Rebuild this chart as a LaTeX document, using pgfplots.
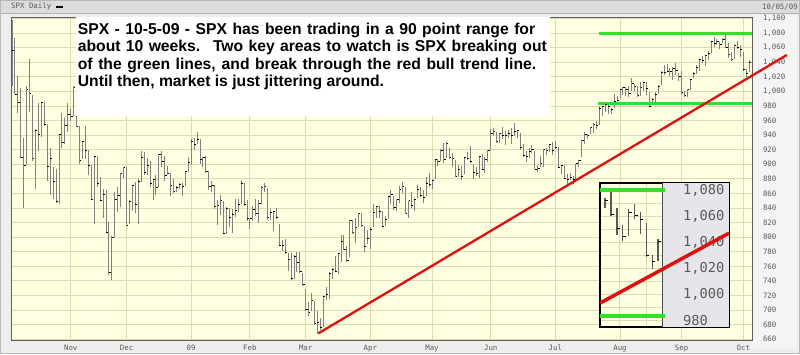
\documentclass[border=0pt]{standalone}
\usepackage{pgfplots}
\pgfplotsset{compat=1.18}
\usepackage{pgfplotstable}
\usepackage{fontspec}
\setmainfont{Liberation Sans}
\newfontfamily\tickfont{DejaVu Sans Mono}
\definecolor{framebg}{HTML}{EDEDED}
\definecolor{headbg}{HTML}{DCDCDC}
\definecolor{plotbg}{HTML}{FFFFE2}
\definecolor{gridc}{HTML}{DEDAB2}
\definecolor{labbg}{HTML}{F4F4F4}
\definecolor{insetgray}{HTML}{E6E6EA}
\definecolor{barc}{HTML}{808080}
\definecolor{greenl}{HTML}{33E02A}
\definecolor{redl}{HTML}{DD1111}
\definecolor{tickc}{HTML}{5A5A5A}
\pgfdeclareplotmark{ctick}{\pgfpathmoveto{\pgfpointorigin}\pgfpathlineto{\pgfpoint{1.8pt}{0pt}}\pgfusepathqstroke}
\pgfdeclareplotmark{ctickbig}{\pgfpathmoveto{\pgfpointorigin}\pgfpathlineto{\pgfpoint{3pt}{0pt}}\pgfusepathqstroke}

% SPX daily, 6 Oct 2008 - 5 Oct 2009 : high low close
\pgfplotstableread{
h l c
1097.56 1007.97 1056.89
1072.91 996.23 996.23
1021.06 970.97 984.94
1005.25 909.19 909.92
936.36 839.80 899.22
1006.93 899.22 1003.35
1044.31 972.07 998.01
994.72 903.99 907.84
948.67 865.83 946.43
984.38 918.74 940.55
985.40 937.28 985.40
985.44 952.47 955.05
955.05 877.08 896.78
922.83 858.44 908.11
896.14 852.85 876.77
893.78 846.75 848.92
940.51 845.27 940.51
969.97 922.26 930.09
963.23 928.50 954.09
984.38 944.59 968.75
975.57 958.82 966.30
1007.51 966.30 1005.75
1005.75 952.21 952.77
952.77 899.73 904.88
931.46 906.90 930.99
951.95 907.47 919.21
919.21 885.12 898.95
898.95 852.30 852.30
911.88 818.69 911.29
911.29 868.57 873.29
882.29 848.98 850.75
865.90 826.84 859.12
864.57 806.18 806.58
820.52 747.78 752.44
801.20 741.02 800.03
862.27 800.03 851.81
868.94 834.99 857.39
887.68 841.37 887.68
896.25 881.21 896.24
896.24 815.69 816.21
850.54 817.93 848.81
870.80 836.49 870.74
875.60 833.60 845.22
879.42 818.41 876.07
918.57 876.07 909.70
916.26 885.38 888.67
908.27 885.45 899.24
904.63 868.73 873.59
880.04 851.35 879.73
884.63 857.72 868.57
914.66 868.57 913.18
918.85 895.94 904.42
911.02 877.44 885.28
897.79 884.81 887.88
887.36 857.09 871.63
880.44 860.10 863.16
869.79 861.44 868.15
873.74 866.52 872.80
873.70 857.07 869.42
891.12 870.58 890.64
910.32 889.67 903.25
934.73 899.35 931.80
936.63 919.53 927.45
943.85 927.28 934.70
934.70 899.96 906.65
910.00 896.81 909.73
911.93 888.31 890.35
890.40 864.32 870.26
877.02 862.02 871.79
871.79 838.71 842.62
851.59 817.04 843.74
858.13 830.66 850.12
849.64 804.47 805.22
842.00 804.47 840.24
840.24 814.29 827.50
838.22 806.07 831.95
852.53 827.69 836.57
852.53 834.31 845.71
877.86 845.73 874.09
874.09 843.16 845.14
851.66 821.67 825.88
825.44 811.09 825.44
842.60 821.98 838.51
851.85 829.18 832.23
850.55 819.91 845.85
870.75 845.42 868.60
875.01 861.65 869.89
868.05 822.99 827.16
838.22 822.99 833.74
835.19 808.06 835.19
839.43 825.21 826.84
818.61 789.17 789.17
796.17 780.43 788.42
797.58 777.03 778.94
778.94 754.25 770.05
777.85 742.37 743.33
775.49 743.33 773.14
780.12 752.89 764.90
779.42 751.75 752.83
751.27 734.52 735.09
729.57 699.70 700.82
711.67 692.30 696.33
724.12 698.96 712.87
712.87 679.28 682.55
699.09 666.79 683.38
689.49 672.88 676.53
719.60 676.53 719.60
731.92 713.85 721.36
752.63 714.76 750.74
758.29 742.46 756.55
774.53 753.37 753.89
778.12 749.93 778.12
803.04 765.64 794.35
803.24 781.82 784.04
788.13 766.20 768.54
823.37 772.47 822.92
823.37 805.93 806.12
826.78 791.37 813.88
832.98 813.88 832.86
832.86 814.23 815.94
815.94 779.81 787.53
810.48 790.88 797.87
813.62 783.32 811.08
845.61 814.53 834.38
842.50 826.70 842.50
842.50 826.83 835.48
835.48 814.12 815.55
828.42 814.84 825.16
856.91 825.16 856.56
864.31 845.35 858.73
856.49 836.88 841.50
852.93 835.58 852.06
870.35 847.04 865.30
875.63 860.87 869.60
868.27 832.39 832.39
850.09 826.83 850.08
861.78 840.57 843.55
852.87 835.45 851.92
871.80 853.91 866.23
868.83 854.65 857.51
864.48 847.12 855.16
882.06 856.85 873.64
888.70 868.51 872.81
880.48 866.10 877.52
907.85 879.21 907.24
907.70 897.34 903.80
920.28 903.95 919.53
929.57 901.36 907.39
930.17 909.03 929.23
922.99 908.68 909.24
915.57 896.46 908.35
905.40 882.79 883.92
898.36 882.52 893.07
896.97 878.94 882.88
910.00 886.07 909.71
916.39 905.22 908.13
924.60 901.37 903.47
900.70 879.61 888.33
896.65 883.75 887.00
911.76 881.46 910.33
913.84 891.87 893.06
909.45 887.60 906.83
920.02 903.78 919.14
947.77 919.14 942.87
949.38 938.46 944.74
944.74 929.16 931.76
942.47 929.32 942.46
951.69 934.13 940.09
946.33 926.44 939.14
946.99 936.15 942.43
949.77 927.97 939.15
956.23 939.04 944.89
946.30 935.66 946.21
942.45 919.65 923.72
928.00 911.60 911.97
918.44 903.78 910.71
921.93 907.94 918.37
927.09 915.80 921.23
918.13 893.04 893.04
898.69 888.86 895.10
910.85 896.31 900.94
921.42 896.27 920.26
922.00 913.03 918.90
927.99 916.18 927.23
930.01 912.86 919.32
931.92 920.82 923.33
923.26 896.42 896.42
898.72 886.36 898.72
898.60 879.93 881.03
886.80 869.32 879.56
887.86 878.45 882.68
883.57 872.81 879.13
901.05 875.32 901.05
905.84 896.50 905.84
933.95 910.15 932.68
943.96 927.45 940.74
941.89 934.65 940.38
951.62 940.99 951.13
956.53 943.22 954.58
959.83 947.75 954.07
979.42 953.27 976.29
979.79 965.95 979.26
982.49 972.29 982.18
982.18 969.42 979.62
977.76 968.65 975.15
996.68 976.61 986.75
993.18 982.85 987.48
1003.61 990.22 1002.63
1005.65 994.68 1005.65
1006.64 994.31 1002.72
1008.00 992.49 997.08
1018.00 1001.01 1010.48
1010.12 1000.99 1007.10
1007.10 991.97 994.35
1012.78 993.36 1005.81
1013.14 1000.82 1012.73
1012.60 994.60 1004.09
998.65 978.51 979.73
991.20 980.76 989.67
999.61 980.62 996.46
1008.92 996.39 1007.37
1027.59 1009.06 1026.13
1035.82 1022.48 1025.57
1037.75 1026.21 1028.00
1032.47 1021.57 1028.12
1033.33 1016.20 1030.98
1039.47 1023.13 1028.93
1025.21 1014.62 1020.62
1028.45 996.28 998.04
1000.34 991.97 994.75
1003.43 992.25 1003.24
1016.48 1001.65 1016.40
1026.07 1018.67 1025.39
1036.34 1023.97 1033.37
1044.14 1028.04 1044.14
1048.18 1038.40 1042.73
1049.74 1035.00 1049.34
1056.04 1043.42 1052.63
1068.76 1052.87 1068.76
1074.77 1061.20 1065.49
1071.52 1064.27 1068.30
1067.28 1057.46 1064.66
1073.81 1066.36 1071.66
1080.15 1060.39 1060.87
1066.29 1045.85 1050.78
1053.47 1041.17 1044.38
1065.13 1045.06 1062.98
1069.62 1057.83 1060.61
1063.40 1046.47 1057.08
1054.60 1029.45 1029.85
1030.60 1019.95 1025.21
1042.58 1025.92 1040.46
}\spx

% inset: 21 Sep - 5 Oct 2009
\pgfplotstableread{
h l c
1067.28 1057.46 1064.66
1073.81 1066.36 1071.66
1080.15 1060.39 1060.87
1066.29 1045.85 1050.78
1053.47 1041.17 1044.38
1065.13 1045.06 1062.98
1069.62 1057.83 1060.61
1063.40 1046.47 1057.08
1054.60 1029.45 1029.85
1030.60 1019.95 1025.21
1042.58 1025.92 1040.46
}\spxzoom

\begin{document}
\begin{tikzpicture}[x=1pt,y=1pt]
\useasboundingbox (0,0) rectangle (800,354);
\fill[framebg] (0,0) rectangle (800,354);
\fill[headbg] (0,341) rectangle (800,354);
\draw[gray!60, line width=0.6pt] (0,340.8) -- (800,340.8);
\fill[labbg] (752,5) rectangle (797,339);
\draw[gray!55, line width=0.8pt] (0.4,0.4) rectangle (799.6,353.6);
\node[anchor=west, font=\tickfont\fontsize{7.4}{8}\selectfont, text=tickc, inner sep=0] at (11,347.3) {SPX Daily};
\fill[black] (56,346.4) rectangle (63,348.4);
\node[anchor=east, font=\tickfont\fontsize{7.4}{8}\selectfont, text=tickc, inner sep=0] at (798,347.3) {10/05/09};

\begin{axis}[
  at={(11.4pt,14pt)}, anchor=south west, scale only axis,
  width=740.6pt, height=323pt,
  xmin=-20.2, xmax=231.95, ymin=659, ymax=1102,
  clip=false,
  axis background/.style={fill=plotbg},
  xtick={0,19,41,61,80,102,123,143,165,187,208,229},
  xticklabels={Nov,Dec,09,Feb,Mar,Apr,May,Jun,Jul,Aug,Sep,Oct},
  ytick={660,680,...,1100},
  yticklabels={660,680,700,720,740,760,780,800,820,840,860,880,900,920,940,960,980,{1,000},{1,020},{1,040},{1,060},{1,080},{1,100}},
  xmajorgrids, ymajorgrids,
  grid style={gridc, line width=0.9pt},
  major tick length=0pt,
  yticklabel pos=right,
  tick label style={font=\tickfont\fontsize{7.4}{8}\selectfont, text=tickc},
  yticklabel style={anchor=west, xshift=7.5pt},
  xticklabel style={yshift=-1.5pt},
  axis line style={gray!75!black, line width=0.8pt},
]
\addplot[only marks, mark=ctick, mark options={black, line width=0.6pt},
  error bars/.cd, y dir=both, y explicit, error mark=none,
  error bar style={barc, line width=0.85pt}]
  table[x expr=\coordindex-20, y=c,
        y error plus expr=\thisrow{h}-\thisrow{c},
        y error minus expr=\thisrow{c}-\thisrow{l}] {\spx};
\addplot[greenl, line width=3pt] coordinates {(179.9,1080) (232,1080)};
\addplot[greenl, line width=3pt] coordinates {(179.4,982.7) (232,982.7)};
\addplot[redl, line width=2.3pt] coordinates {(84.3,668.1) (243.8,1049.9)};
\end{axis}

\fill[white] (75.5,238) rectangle (550,337);
\node[anchor=north west, align=left, inner sep=0, font=\bfseries\fontsize{15.7}{17.3}\selectfont] at (77.7,330.9)
 {\makebox[457.3pt][s]{SPX - 10-5-09 - SPX has been trading in a 90 point range for}\\
  \makebox[469pt][s]{about 10 weeks.\hspace{4pt} Two key areas to watch is SPX breaking out}\\
  \makebox[458.3pt][s]{of the green lines, and break through the red bull trend line.}\\
  Until then, market is just jittering around.};

\begin{axis}[
  at={(600pt,26.7pt)}, anchor=south west, scale only axis,
  width=129pt, height=144pt,
  xmin=-0.86, xmax=21, ymin=975, ymax=1085.1,
  clip=true,
  axis background/.style={fill=plotbg},
  xtick={2.36,7.05}, ytick={980,990,...,1080},
  xticklabels={}, yticklabels={},
  xmajorgrids, ymajorgrids,
  grid style={gridc, line width=0.9pt},
  major tick length=0pt,
  axis line style={black, line width=2.2pt},
]
\fill[insetgray] (axis cs:9.76,975) rectangle (axis cs:21,1085.1);
\draw[gray!60!black, line width=0.9pt] (axis cs:9.76,975) -- (axis cs:9.76,1085.1);
\node[anchor=west, inner sep=0, font=\tickfont\fontsize{13.7}{14}\selectfont, text=tickc] at (axis cs:13.2,1080) {1,080};
\node[anchor=west, inner sep=0, font=\tickfont\fontsize{13.7}{14}\selectfont, text=tickc] at (axis cs:13.2,1060) {1,060};
\node[anchor=west, inner sep=0, font=\tickfont\fontsize{13.7}{14}\selectfont, text=tickc] at (axis cs:13.2,1040) {1,040};
\node[anchor=west, inner sep=0, font=\tickfont\fontsize{13.7}{14}\selectfont, text=tickc] at (axis cs:13.2,1020) {1,020};
\node[anchor=west, inner sep=0, font=\tickfont\fontsize{13.7}{14}\selectfont, text=tickc] at (axis cs:13.2,1000) {1,000};
\node[anchor=west, inner sep=0, font=\tickfont\fontsize{13.7}{14}\selectfont, text=tickc] at (axis cs:13.2,980) {980};
\addplot[only marks, mark=ctickbig, mark options={black, line width=1pt},
  error bars/.cd, y dir=both, y explicit, error mark=none,
  error bar style={gray!70!black, line width=1.4pt}]
  table[x expr=\coordindex-1, y=c,
        y error plus expr=\thisrow{h}-\thisrow{c},
        y error minus expr=\thisrow{c}-\thisrow{l}] {\spxzoom};
\addplot[greenl, line width=4pt] coordinates {(-0.86,1080) (10.2,1080)};
\addplot[greenl, line width=4pt] coordinates {(-0.86,983.8) (10.2,983.8)};
\addplot[redl, line width=3.5pt] coordinates {(-0.86,993.5) (21,1047)};
\end{axis}
\end{tikzpicture}
\end{document}
